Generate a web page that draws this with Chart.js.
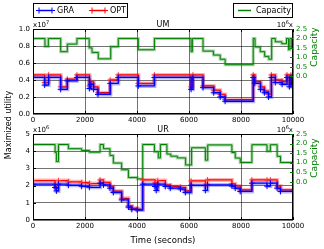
<!DOCTYPE html>
<html>
<head>
<meta charset="utf-8">
<script src="https://cdn.jsdelivr.net/npm/chart.js@4.4.0/dist/chart.umd.min.js"></script>
<style>
  body { margin: 0; background: #fff; }
  #wrap { position: relative; width: 324px; height: 249px; }
  canvas { position: absolute; left: 0; top: 0; }
</style>
</head>
<body>
<div id="wrap">
  <canvas id="um" width="324" height="249"></canvas>
  <canvas id="ur" width="324" height="249"></canvas>
</div>
<script>
// --- UM (utility x1e7, capacity x1e6) ---
var umTime = [0, 450, 600, 1065, 1320, 1690, 2170, 2220, 2330, 2500, 2970, 3280, 4050, 4670, 6080, 6150, 6540, 6950, 7200, 7390, 8470, 8530, 8750, 8900, 9060, 9170, 9320, 9580, 9770, 9860, 9920, 9970, 10000];
var umOpt  = [0.46, 0.37, 0.46, 0.32, 0.41, 0.46, 0.33, 0.38, 0.32, 0.25, 0.40, 0.46, 0.36, 0.46, 0.32, 0.46, 0.33, 0.28, 0.23, 0.17, 0.46, 0.38, 0.32, 0.27, 0.23, 0.46, 0.40, 0.38, 0.46, 0.35, 0.46, 0.38, 0.38];
var umGra  = [0.43, 0.34, 0.43, 0.29, 0.39, 0.43, 0.30, 0.35, 0.29, 0.23, 0.36, 0.43, 0.33, 0.43, 0.29, 0.43, 0.31, 0.25, 0.20, 0.15, 0.43, 0.36, 0.29, 0.25, 0.20, 0.43, 0.37, 0.35, 0.43, 0.32, 0.43, 0.35, 0.35];
var umCapTime = [0, 460, 590, 1065, 1320, 1690, 2160, 2270, 2510, 2990, 3280, 4050, 4670, 6080, 6130, 6540, 6940, 7200, 7390, 8470, 8540, 8740, 8910, 9070, 9180, 9320, 9570, 9750, 9830, 9880, 9950, 9990, 10000];
var umCap     = [2.0, 1.58, 2.0, 1.30, 1.70, 2.0, 1.50, 1.26, 0.92, 1.56, 2.0, 1.40, 2.0, 1.30, 2.0, 1.33, 1.12, 0.90, 0.61, 2.0, 1.55, 1.30, 1.05, 0.90, 2.0, 1.82, 1.72, 2.0, 1.40, 2.0, 1.50, 2.0, 2.0];

// --- UR (utility x1e6, capacity x1e6) ---
var urTime = [0, 850, 900, 980, 1360, 1870, 2170, 2580, 2710, 2960, 3090, 3410, 3670, 3800, 4010, 4220, 4690, 4740, 4800, 5090, 5280, 5670, 5860, 6080, 6630, 6710, 7650, 7780, 7970, 8420, 9000, 9130, 9390, 9520, 10000];
var urOpt  = [2.29, 2.04, 1.85, 2.29, 2.22, 2.17, 2.12, 2.33, 2.18, 1.95, 1.68, 1.26, 0.82, 0.68, 0.62, 2.33, 2.15, 1.95, 2.29, 2.04, 1.95, 1.90, 1.69, 2.27, 2.00, 2.33, 2.10, 1.98, 1.75, 2.33, 2.33, 2.33, 1.98, 1.75, 1.75];
var urGra  = [2.08, 1.89, 1.69, 2.08, 2.02, 1.96, 1.90, 2.14, 2.04, 1.85, 1.60, 1.17, 0.75, 0.62, 0.58, 2.08, 1.95, 1.72, 2.08, 1.95, 1.85, 1.80, 1.60, 2.02, 1.72, 2.04, 1.97, 1.85, 1.66, 2.14, 1.97, 2.14, 1.85, 1.66, 1.66];
var urCapTime = [0, 850, 900, 980, 1360, 1870, 2170, 2580, 2710, 2960, 3090, 3410, 3670, 4010, 4220, 4670, 4820, 4900, 5150, 5300, 5550, 5870, 6100, 6630, 6720, 7650, 7780, 7970, 8420, 9000, 9130, 9390, 9520, 10000];
var urCap     = [1.95, 1.53, 1.06, 1.95, 1.73, 1.64, 1.55, 1.95, 1.73, 1.38, 0.98, 0.63, 0.22, 0.15, 1.95, 1.57, 1.25, 1.95, 1.45, 1.34, 1.25, 0.88, 1.78, 1.13, 1.93, 1.53, 1.24, 1.01, 1.94, 1.60, 1.94, 1.33, 1.01, 1.01];

var xTicks = [0, 2000, 4000, 6000, 8000, 10000];
var capTicks = [0.0, 0.5, 1.0, 1.5, 2.0, 2.5];

var FONT = 'DejaVu Sans';
var BLUE = '#0000ff', RED = '#ff0000', GREEN = '#008000';

function pts(times, vals) {
  return times.map(function(t, i) { return { x: t, y: vals[i] }; });
}

// superscript text like x10^7, drawn left or right aligned
function drawExp(ctx, pre, sup, post, x, y, align) {
  ctx.font = '7px ' + FONT;
  var w1 = ctx.measureText(pre).width;
  var w3 = ctx.measureText(post).width;
  ctx.font = '5px ' + FONT;
  var w2 = ctx.measureText(sup).width;
  var sx = align === 'right' ? x - (w1 + w2 + w3) : x;
  ctx.textAlign = 'left';
  ctx.textBaseline = 'alphabetic';
  ctx.font = '7px ' + FONT;
  ctx.fillText(pre, sx, y);
  ctx.font = '5px ' + FONT;
  ctx.fillText(sup, sx + w1, y - 3);
  ctx.font = '7px ' + FONT;
  ctx.fillText(post, sx + w1 + w2, y);
}

function legendLine(ctx, x1, x2, y, color, marks) {
  ctx.strokeStyle = color;
  ctx.lineWidth = 1.5;
  ctx.beginPath(); ctx.moveTo(x1, y); ctx.lineTo(x2, y); ctx.stroke();
  if (marks) {
    ctx.lineWidth = 1;
    [x1, x2].forEach(function(px) {
      ctx.beginPath();
      ctx.moveTo(px - 3, y); ctx.lineTo(px + 3, y);
      ctx.moveTo(px, y - 3); ctx.lineTo(px, y + 3);
      ctx.stroke();
    });
  }
}

var decor = {
  id: 'decor',
  afterDraw: function(chart, args, o) {
    var ctx = chart.ctx, a = chart.chartArea;
    var xs = chart.scales.x, ys = chart.scales.y, y1 = chart.scales.y1;
    ctx.save();
    // frame
    ctx.strokeStyle = '#000';
    ctx.lineWidth = 1;
    ctx.strokeRect(a.left + 0.5, a.top + 0.5, a.right - a.left - 1, a.bottom - a.top - 1);
    // inward ticks
    ctx.beginPath();
    xTicks.forEach(function(v) {
      var px = Math.round(xs.getPixelForValue(v)) + 0.5;
      ctx.moveTo(px, a.bottom); ctx.lineTo(px, a.bottom - 3);
      ctx.moveTo(px, a.top); ctx.lineTo(px, a.top + 3);
    });
    o.yTicks.forEach(function(v) {
      var py = Math.round(ys.getPixelForValue(v)) + 0.5;
      ctx.moveTo(a.left, py); ctx.lineTo(a.left + 3, py);
    });
    ctx.stroke();
    ctx.strokeStyle = GREEN;
    ctx.beginPath();
    capTicks.forEach(function(v) {
      var py = Math.round(y1.getPixelForValue(v)) + 0.5;
      ctx.moveTo(a.right, py); ctx.lineTo(a.right - 3, py);
    });
    ctx.stroke();

    // title and exponents
    ctx.fillStyle = '#000';
    ctx.font = '8px ' + FONT;
    ctx.textAlign = 'center';
    ctx.textBaseline = 'alphabetic';
    ctx.fillText(o.title, (a.left + a.right) / 2, a.top - 2);
    drawExp(ctx, 'x10', o.leftExp, '', a.left, a.top - 2, 'left');
    drawExp(ctx, '10', '6', 'x', a.right, a.top - 2, 'right');

    // right axis label
    ctx.save();
    ctx.fillStyle = GREEN;
    ctx.font = '9px ' + FONT;
    ctx.translate(315, o.capLabelY);
    ctx.rotate(-Math.PI / 2);
    ctx.textAlign = 'center';
    ctx.textBaseline = 'middle';
    ctx.fillText('Capacity', 0, 0);
    ctx.restore();

    if (o.legend) {
      ctx.fillStyle = '#fff';
      ctx.strokeStyle = '#000';
      ctx.lineWidth = 1;
      ctx.fillRect(33.5, 3.5, 94, 14);
      ctx.strokeRect(33.5, 3.5, 94, 14);
      ctx.fillRect(233.5, 3.5, 59, 14);
      ctx.strokeRect(233.5, 3.5, 59, 14);
      legendLine(ctx, 39, 52, 10.5, BLUE, true);
      legendLine(ctx, 92, 105, 10.5, RED, true);
      legendLine(ctx, 238, 251, 10.5, GREEN, false);
      ctx.fillStyle = '#000';
      ctx.font = '8px ' + FONT;
      ctx.textAlign = 'left';
      ctx.textBaseline = 'middle';
      ctx.fillText('GRA', 57, 11);
      ctx.fillText('OPT', 110, 11);
      ctx.fillText('Capacity', 256, 11);
    }
    if (o.ylabel) {
      ctx.save();
      ctx.fillStyle = '#000';
      ctx.font = '8px ' + FONT;
      ctx.translate(8.5, 125);
      ctx.rotate(-Math.PI / 2);
      ctx.textAlign = 'center';
      ctx.textBaseline = 'middle';
      ctx.fillText('Maximized utility', 0, 0);
      ctx.restore();
    }
    ctx.restore();
  }
};

function makeChart(id, cfg) {
  var datasets = [
    { data: pts(cfg.time, cfg.gra), yAxisID: 'y', borderColor: 'rgba(0,0,255,0.3)', borderWidth: 4, pointRadius: 0 },
    { data: pts(cfg.time, cfg.gra), yAxisID: 'y', borderColor: BLUE, borderWidth: 1.3, pointStyle: 'cross', pointRadius: 3, pointBorderWidth: 1, pointBorderColor: BLUE },
    { data: pts(cfg.time, cfg.opt), yAxisID: 'y', borderColor: 'rgba(255,0,0,0.3)', borderWidth: 4, pointRadius: 0 },
    { data: pts(cfg.time, cfg.opt), yAxisID: 'y', borderColor: RED, borderWidth: 1.3, pointStyle: 'cross', pointRadius: 3, pointBorderWidth: 1, pointBorderColor: 'rgba(255,60,60,0.9)' },
    { data: pts(cfg.capTime, cfg.cap), yAxisID: 'y1', borderColor: 'rgba(0,128,0,0.35)', borderWidth: 3, pointRadius: 0 },
    { data: pts(cfg.capTime, cfg.cap), yAxisID: 'y1', borderColor: GREEN, borderWidth: 1, pointRadius: 0 }
  ];
  datasets.forEach(function(d) { d.stepped = true; d.fill = false; });

  return new Chart(document.getElementById(id), {
    type: 'line',
    data: { datasets: datasets },
    plugins: [decor],
    options: {
      responsive: false,
      animation: false,
      devicePixelRatio: 1,
      layout: { padding: { top: cfg.top, left: 0, right: 0, bottom: cfg.bottomPad } },
      plugins: {
        legend: { display: false },
        tooltip: { enabled: false },
        decor: cfg.decor
      },
      scales: {
        x: {
          type: 'linear', min: 0, max: 10000,
          afterBuildTicks: function(s) { s.ticks = xTicks.map(function(v) { return { value: v }; }); },
          ticks: { color: '#000', font: { family: FONT, size: 7 }, padding: 2, maxRotation: 0,
                   callback: function(v) { return String(v); } },
          grid: { color: 'rgba(0,0,0,0.55)', borderDash: [1, 2], drawTicks: false },
          border: { display: false },
          title: cfg.xTitle ? { display: true, text: 'Time (seconds)', color: '#000', font: { family: FONT, size: 8.5 }, padding: { top: 2, bottom: 3 } } : { display: false },
          afterFit: function(s) { s.height = cfg.xHeight; }
        },
        y: {
          min: 0, max: cfg.yMax,
          afterBuildTicks: function(s) { s.ticks = cfg.yTicks.map(function(v) { return { value: v }; }); },
          ticks: { color: '#000', font: { family: FONT, size: 7 }, padding: 3,
                   callback: function(v) { return cfg.yFmt(v); } },
          grid: { color: 'rgba(0,0,0,0.55)', borderDash: [1, 2], drawTicks: false },
          border: { display: false },
          afterFit: function(s) { s.width = 33; }
        },
        y1: {
          position: 'right', min: -2, max: 2.5,
          afterBuildTicks: function(s) { s.ticks = capTicks.map(function(v) { return { value: v }; }); },
          ticks: { color: GREEN, font: { family: FONT, size: 7 }, padding: 3,
                   callback: function(v) { return v.toFixed(1); } },
          grid: { drawOnChartArea: false, drawTicks: false },
          border: { display: false },
          afterFit: function(s) { s.width = 31; }
        }
      }
    }
  });
}

makeChart('um', {
  time: umTime, gra: umGra, opt: umOpt, capTime: umCapTime, cap: umCap,
  top: 29, bottomPad: 123, xHeight: 12, xTitle: false,
  yMax: 1, yTicks: [0, 0.2, 0.4, 0.6, 0.8, 1.0],
  yFmt: function(v) { return v.toFixed(1); },
  decor: { title: 'UM', leftExp: '7', yTicks: [0.2, 0.4, 0.6, 0.8], capLabelY: 47, legend: true, ylabel: false }
});

makeChart('ur', {
  time: urTime, gra: urGra, opt: urOpt, capTime: urCapTime, cap: urCap,
  top: 134, bottomPad: 0, xHeight: 29, xTitle: true,
  yMax: 5, yTicks: [0, 1, 2, 3, 4, 5],
  yFmt: function(v) { return String(Math.round(v)); },
  decor: { title: 'UR', leftExp: '6', yTicks: [1, 2, 3, 4], capLabelY: 158, legend: false, ylabel: true }
});
</script>
</body>
</html>
